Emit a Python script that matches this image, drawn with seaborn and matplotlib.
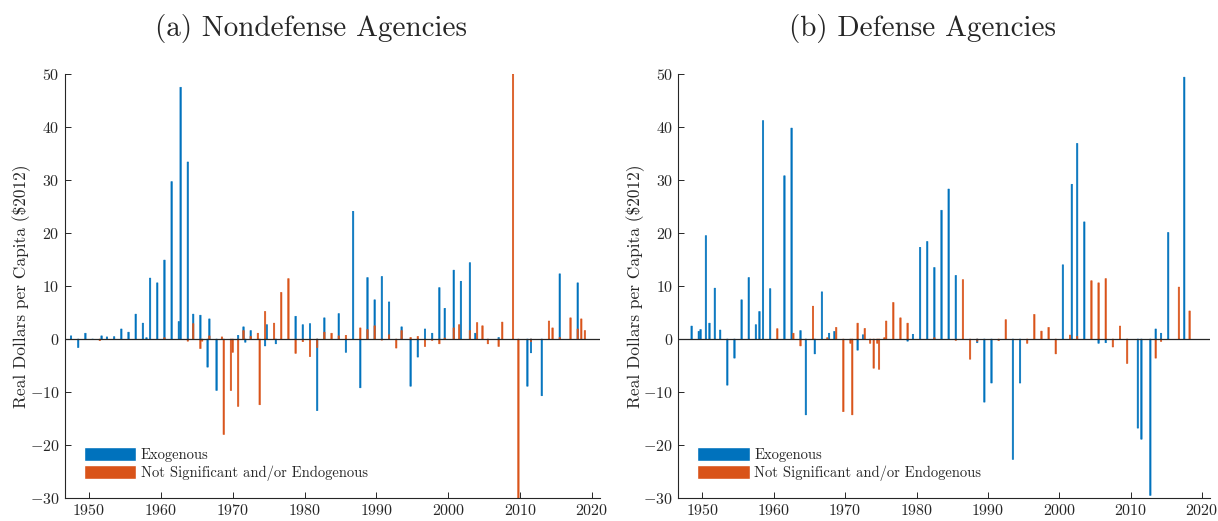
import matplotlib
matplotlib.use('Agg')
import matplotlib.pyplot as plt
import seaborn as sns
import pandas as pd
from matplotlib.patches import Patch

sns.set_theme(style='white')
plt.rcParams['font.family'] = ['cmr10', 'DejaVu Serif']
plt.rcParams['mathtext.fontset'] = 'cm'
plt.rcParams['axes.formatter.use_mathtext'] = True

EXO = 'Exogenous'
ENDO = 'Not Significant and/or Endogenous'
colores = {EXO: '#0072BD', ENDO: '#D95319'}

# (a) nondefense agencies
nd_exo_t = [1947.5, 1948.5, 1949.5, 1950.5, 1951.75, 1952.5, 1953.5, 1954.5, 1955.5, 1956.5,
            1957.5, 1958.0, 1958.5, 1959.5, 1960.5, 1961.5, 1962.5, 1962.75, 1963.75, 1964.5,
            1965.5, 1966.5, 1966.75, 1967.75, 1970.75, 1971.5, 1971.75, 1972.5, 1974.5, 1974.75,
            1976.0, 1978.75, 1979.75, 1980.75, 1981.75, 1982.75, 1984.75, 1985.75, 1986.75, 1987.75,
            1988.75, 1989.75, 1990.75, 1991.75, 1993.5, 1994.75, 1995.75, 1996.75, 1997.75, 1998.75,
            1999.5, 2000.75, 2001.75, 2003.0, 2003.75, 2007.0, 2011.0, 2011.5, 2013.0, 2015.5, 2018.0]
nd_exo_v = [0.6, -1.6, 1.1, -0.1, 0.6, 0.4, 0.45, 1.9, 1.3, 4.7,
            3.0, 0.25, 11.5, 10.6, 14.9, 29.7, 3.3, 47.5, 33.4, 4.7,
            4.5, -5.3, 3.8, -9.7, 0.7, 2.3, -0.6, 1.6, -1.3, 2.7,
            -0.9, 4.3, 2.7, 2.9, -13.5, 4.0, 4.8, -2.5, 24.1, -9.2,
            11.6, 7.4, 11.8, 7.0, 2.3, -8.9, -3.4, 1.9, 1.1, 9.7,
            5.8, 13.0, 10.9, 14.4, 1.1, 0.3, -8.9, -2.6, -10.7, 12.3, 10.6]
nd_endo_t = [1951.5, 1960.5, 1963.75, 1964.5, 1965.5, 1965.75, 1966.75, 1968.5, 1968.75, 1969.75,
             1970.0, 1970.75, 1971.5, 1972.5, 1973.5, 1973.75, 1974.5, 1975.75, 1976.75, 1977.75,
             1978.75, 1979.75, 1980.75, 1981.75, 1982.75, 1983.75, 1984.75, 1985.75, 1987.75, 1988.75,
             1989.75, 1990.75, 1991.75, 1992.75, 1993.5, 1994.75, 1995.75, 1996.75, 1997.75, 1998.75,
             1999.5, 2000.75, 2001.5, 2003.0, 2004.0, 2004.75, 2005.5, 2007.0, 2007.5, 2009.0,
             2009.75, 2011.5, 2014.0, 2014.5, 2015.5, 2017.0, 2018.0, 2018.5, 2019.0]
nd_endo_v = [-0.3, 0.25, -0.4, 2.9, -1.8, -0.4, 0.6, 0.4, -18.0, -9.7,
             -2.5, -12.7, 1.6, 0.5, 1.1, -12.4, 5.2, 3.0, 8.8, 11.4,
             -2.7, -0.5, -3.3, -1.6, 1.3, 1.1, 0.6, 0.7, 2.1, 1.8,
             2.5, -0.2, 0.8, -1.7, 1.6, 0.3, 0.5, -1.4, -0.25, -0.9,
             0.2, 2.1, 2.7, 1.6, 3.1, 2.5, -0.9, -1.4, 3.2, 50.0,
             -36.0, -0.5, 3.4, 2.1, 0.3, 4.0, 1.9, 3.8, 1.6]

# (b) defense agencies
d_exo_t = [1948.5, 1949.5, 1949.75, 1950.5, 1951.0, 1951.75, 1952.5, 1953.5, 1954.5, 1955.5,
           1956.5, 1957.5, 1958.0, 1958.5, 1959.5, 1961.5, 1962.5, 1963.75, 1964.5, 1965.75,
           1966.75, 1967.75, 1968.5, 1971.75, 1972.5, 1978.75, 1979.5, 1980.5, 1981.5, 1982.5,
           1983.5, 1984.5, 1985.5, 1988.5, 1989.5, 1990.5, 1993.5, 1994.5, 2000.5, 2001.75,
           2002.5, 2003.5, 2005.5, 2006.5, 2011.0, 2011.5, 2012.75, 2013.5, 2014.25, 2015.25, 2017.5]
d_exo_v = [2.45, 1.45, 1.8, 19.5, 3.0, 9.6, 1.7, -8.7, -3.6, 7.4,
           11.6, 2.7, 5.2, 41.2, 9.5, 30.8, 39.8, 1.6, -14.3, -2.8,
           8.9, 1.1, 1.45, -2.1, 0.8, -0.4, 0.9, 17.3, 18.4, 13.5,
           24.3, 28.3, 12.0, -0.7, -11.9, -8.3, -22.7, -8.3, 14.0, 29.2,
           36.9, 22.1, -0.8, -0.7, -16.8, -18.9, -29.5, 1.9, 1.1, 20.1, 49.4]
d_endo_t = [1960.5, 1962.75, 1963.75, 1965.5, 1967.5, 1968.75, 1969.75, 1970.75, 1971.0, 1971.75,
            1972.75, 1973.5, 1974.0, 1974.5, 1974.75, 1975.5, 1975.75, 1976.75, 1977.75, 1978.75,
            1982.5, 1985.5, 1986.5, 1987.5, 1988.5, 1991.5, 1992.5, 1995.5, 1996.5, 1997.5,
            1998.5, 1999.5, 2001.5, 2002.5, 2004.5, 2005.5, 2006.5, 2007.5, 2008.5, 2009.5,
            2013.5, 2014.25, 2016.75, 2018.25]
d_endo_v = [1.95, 1.1, -1.3, 6.2, 0.25, 2.2, -13.7, -0.8, -14.3, 3.0,
            2.0, -0.8, -5.5, -0.8, -5.7, 0.25, 3.4, 6.9, 4.0, 3.0,
            0.25, -0.25, 11.2, -3.8, -0.4, -0.3, 3.65, -0.8, 4.65, 1.5,
            2.2, -2.8, 0.75, 0.5, 11.0, 10.6, 11.4, -1.5, 2.45, -4.6,
            -3.6, -0.45, 9.8, 5.3]

titulos = ['(a) Nondefense Agencies', '(b) Defense Agencies']
paineis = [(nd_exo_t, nd_exo_v, nd_endo_t, nd_endo_v), (d_exo_t, d_exo_v, d_endo_t, d_endo_v)]


def monta_df(exo_t, exo_v, endo_t, endo_v):
    a = pd.DataFrame({'date': exo_t, 'value': exo_v, 'kind': EXO})
    b = pd.DataFrame({'date': endo_t, 'value': endo_v, 'kind': ENDO})
    return pd.concat([a, b], ignore_index=True)


fig = plt.figure(figsize=(12.18, 5.21), dpi=100)
posicoes = [[0.053, 0.044, 0.4396, 0.814], [0.5567, 0.044, 0.4367, 0.814]]

for pos, titulo, dados in zip(posicoes, titulos, paineis):
    ax = fig.add_axes(pos)
    df = monta_df(*dados)
    sns.barplot(data=df, x='date', y='value', hue='kind', hue_order=[EXO, ENDO],
                palette=colores, native_scale=True, dodge=False, width=0.8,
                saturation=1, errorbar=None, legend=False, ax=ax)
    # contorno da mesma cor para todas as barras ficarem com a mesma largura
    for barra in ax.patches:
        barra.set_edgecolor(barra.get_facecolor())
        barra.set_linewidth(0.4)
        barra.set_snap(False)
    ax.axhline(0, color='#262626', lw=0.9, zorder=5)
    ax.set_xlim(1946.6, 2021.1)
    ax.set_ylim(-30, 50)
    ax.set_xticks(range(1950, 2021, 10))
    ax.set_yticks(range(-30, 51, 10))
    ax.set_xlabel('')
    ax.set_ylabel('Real Dollars per Capita (\\$2012)', fontsize=12.5, labelpad=-1)
    ax.set_title(titulo, fontsize=21, pad=27, x=0.46)
    ax.tick_params(direction='in', length=4, width=0.7, colors='#262626', labelsize=11.5,
                   bottom=True, left=True)
    for lado in ['top', 'right']:
        ax.spines[lado].set_visible(False)
    for lado in ['left', 'bottom']:
        ax.spines[lado].set_color('#262626')
        ax.spines[lado].set_linewidth(0.8)
    ax.set_facecolor('white')
    alcas = [Patch(facecolor=colores[EXO], label=EXO), Patch(facecolor=colores[ENDO], label=ENDO)]
    ax.legend(handles=alcas, loc='lower left', bbox_to_anchor=(0.025, 0.026), frameon=False,
              fontsize=10.5, handlelength=3.6, handleheight=1.1, handletextpad=0.3,
              labelspacing=0.22, borderaxespad=0)

fig.savefig('out.png', dpi=100, facecolor='white')
